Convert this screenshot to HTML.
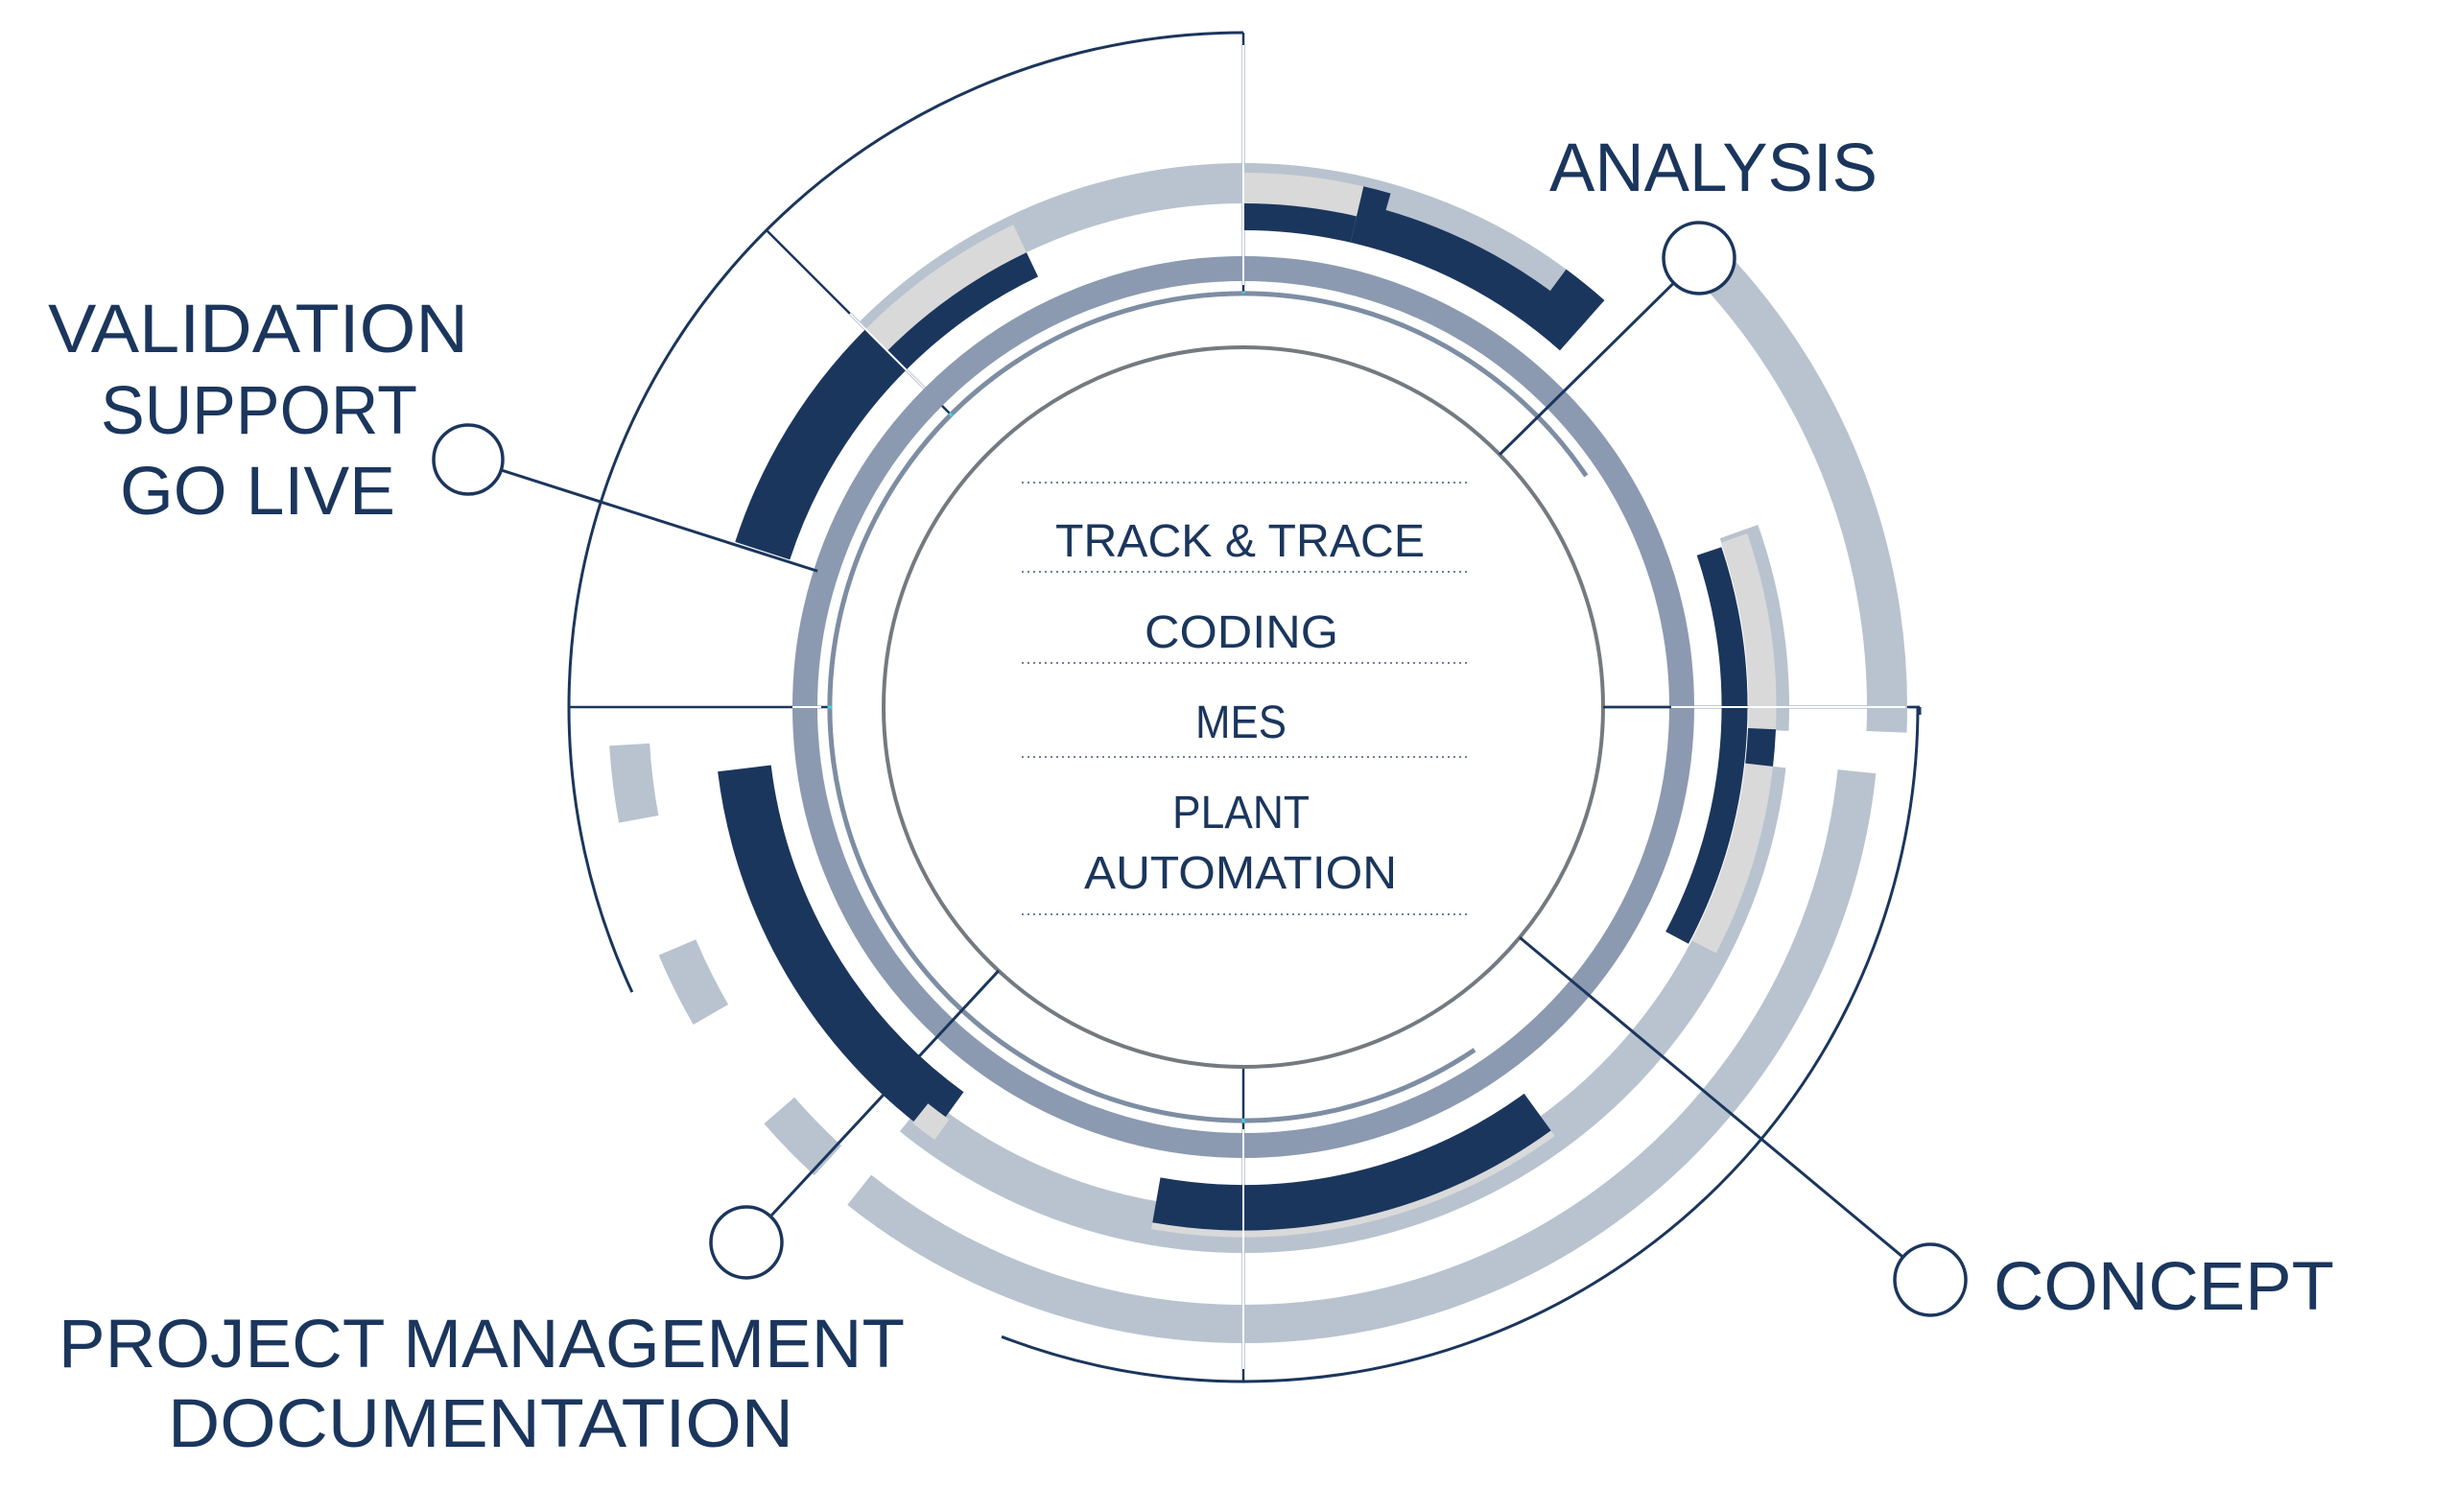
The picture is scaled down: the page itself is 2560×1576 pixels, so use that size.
<!DOCTYPE html>
<html><head><meta charset="utf-8"><style>
html,body{margin:0;padding:0;background:#fff;}
svg{display:block;}
text{font-family:"Liberation Sans",sans-serif;fill:#1b365d;}
</style></head><body>
<svg id="s" width="2560" height="1576" viewBox="0 0 2560 1576" xmlns="http://www.w3.org/2000/svg">
<rect width="2560" height="1576" fill="#fff"/>
<g id="base"></g>
<g id="arcs"></g>
<g id="over"></g>
<g stroke="#6f7f96" stroke-width="2" stroke-dasharray="2 4">
<line x1="1065" y1="503" x2="1530" y2="503"/>
<line x1="1065" y1="596" x2="1530" y2="596"/>
<line x1="1065" y1="691" x2="1530" y2="691"/>
<line x1="1065" y1="789" x2="1530" y2="789"/>
<line x1="1065" y1="953" x2="1530" y2="953"/>
</g>
<g font-size="48">
<text x="1100" y="580" textLength="385" lengthAdjust="spacingAndGlyphs">TRACK &amp; TRACE</text>
<text x="1193" y="675" textLength="202" lengthAdjust="spacingAndGlyphs">CODING</text>
<text x="1246" y="769" textLength="95" lengthAdjust="spacingAndGlyphs">MES</text>
<text x="1222" y="863" textLength="143" lengthAdjust="spacingAndGlyphs">PLANT</text>
<text x="1130" y="926" textLength="326" lengthAdjust="spacingAndGlyphs">AUTOMATION</text>
</g>
<g font-size="71">
<text x="50" y="367" textLength="438" lengthAdjust="spacingAndGlyphs">VALIDATION</text>
<text x="105" y="452" textLength="330" lengthAdjust="spacingAndGlyphs">SUPPORT</text>
<text x="125" y="536" textLength="287" lengthAdjust="spacingAndGlyphs">GO LIVE</text>
<text x="1615" y="199" textLength="342" lengthAdjust="spacingAndGlyphs">ANALYSIS</text>
<text x="2078" y="1365" textLength="355" lengthAdjust="spacingAndGlyphs">CONCEPT</text>
<text x="61" y="1425" textLength="882" lengthAdjust="spacingAndGlyphs">PROJECT MANAGEMENT</text>
<text x="175" y="1508" textLength="652" lengthAdjust="spacingAndGlyphs">DOCUMENTATION</text>
</g>
</svg>
<script>
(function(){
var NS="http://www.w3.org/2000/svg",cx=1296,cy=737;
function P(r,a){a=a*Math.PI/180;return [cx+r*Math.sin(a),cy-r*Math.cos(a)];}
function arcD(r,a1,a2){var p=P(r,a1),q=P(r,a2),l=(a2-a1)>180?1:0;
 return "M"+p[0].toFixed(2)+" "+p[1].toFixed(2)+" A"+r+" "+r+" 0 "+l+" 1 "+q[0].toFixed(2)+" "+q[1].toFixed(2);}
function add(g,tag,at){var e=document.createElementNS(NS,tag);for(var k in at)e.setAttribute(k,at[k]);document.getElementById(g).appendChild(e);return e;}
function arc(g,r,a1,a2,w,c){add(g,"path",{d:arcD(r,a1,a2),fill:"none",stroke:c,"stroke-width":w});}
function rad(g,a,r1,r2,w,c){var p=P(r1,a),q=P(r2,a);add(g,"line",{x1:p[0],y1:p[1],x2:q[0],y2:q[1],stroke:c,"stroke-width":w});}
var NV="#1b365d",BG="#b8c3cf",LG="#d9d9d9",MR="#8b9ab0",TH="#7d8da3",IN="#737a80";
rad("base",0,431,703,2.5,NV);
rad("base",315,431,703,2.5,NV);
rad("base",270,431,703,2.5,NV);
rad("base",90,375,705,2.5,NV);
rad("base",180,375,703,2.5,NV);
arc("base",703,245,360,3,NV);
arc("base",703,90,201,3,NV);
add("arcs","circle",{cx:cx,cy:cy,r:375,fill:"none",stroke:IN,"stroke-width":4});
arc("arcs",431,146,416,5,TH);
add("arcs","circle",{cx:cx,cy:cy,r:457,fill:"none",stroke:MR,"stroke-width":26});
arc("arcs",546,315,396.4,42,BG);
arc("arcs",541,0,13,32,LG);
arc("arcs",541,315,334.5,32,LG);
arc("arcs",511,0,13,28,NV);
arc("arcs",518,13,41.6,42,NV);
arc("arcs",541,13,16,32,NV);
arc("arcs",546,36.4,41.6,42,NV);
arc("arcs",511,315,334.5,28,NV);
arc("arcs",527,288,315,60,NV);
arc("arcs",548,70.5,92.5,42,BG);
arc("arcs",541,71,92.4,29,LG);
arc("arcs",548,96.4,219,42,BG);
arc("arcs",538,190,219,30,BG);
arc("arcs",541,96.4,117.5,29,LG);
arc("arcs",512,71.5,118,27,NV);
arc("arcs",541,92.4,96.4,29,NV);
arc("arcs",522,144,190,48,NV);
arc("arcs",549,144,190,7,LG);
arc("arcs",524,216,263,56,NV);
arc("arcs",541,215.5,218.5,26,LG);
arc("arcs",643,96,218.5,40,BG);
arc("arcs",641,222.5,229,42,BG);
arc("arcs",641,240,247,42,BG);
arc("arcs",641,259.5,266.5,42,BG);
arc("arcs",671,46.4,92.2,42,BG);
rad("over",0,440,690,2,"#fff");
rad("over",180,440,690,2,"#fff");
rad("over",270,440,470,2,"#fff");
rad("over",90,440,690,2,"#fff");
rad("over",315,470,580,2,"#fff");
rad("over",0,431,433,3,"#39d5e6");
rad("over",315,429,433,3,"#39d5e6");
rad("over",270,429,433,3,"#39d5e6");
rad("over",180,429,433,3,"#39d5e6");
add("over","line",{x1:1671,y1:737,x2:1742,y2:737,stroke:NV,"stroke-width":2.5});
add("over","line",{x1:1990,y1:737,x2:2001,y2:737,stroke:NV,"stroke-width":2.5});
add("over","line",{x1:2001,y1:737,x2:2001,y2:745,stroke:NV,"stroke-width":3});
function callout(x,y,rr,rEnd){var dx=cx-x,dy=cy-y,d=Math.sqrt(dx*dx+dy*dy),ux=dx/d,uy=dy/d;
 add("over","line",{x1:x+ux*rr,y1:y+uy*rr,x2:cx-ux*rEnd,y2:cy-uy*rEnd,stroke:NV,"stroke-width":3});
 add("over","circle",{cx:x,cy:y,r:rr,fill:"#fff",stroke:NV,"stroke-width":3.5});}
callout(1771,269,37,375);
callout(488,479,36,466);
callout(778,1295,37,375);
callout(2012,1334,37,375);
})();
</script>
</body></html>
